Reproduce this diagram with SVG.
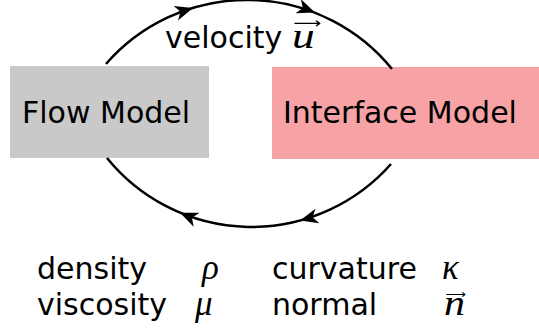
<svg xmlns="http://www.w3.org/2000/svg" width="539" height="336" viewBox="0 0 539 336">
<defs>
<style>
.lbl{font-family:"DejaVu Sans",sans-serif;font-size:30px;fill:#000}
.math{font-family:"Liberation Serif","DejaVu Serif",serif;font-style:italic;font-size:35px;fill:#000}
.vec{font-family:"DejaVu Sans",sans-serif;font-style:normal}
.arc{fill:none;stroke:#000;stroke-width:2.5}
.head{fill:#000}
</style>
<path id="ah" d="M0,0 L-18,-7.5 L-13,0 L-18,7.5 Z"/>
</defs>
<rect width="539" height="336" fill="#fff"/>
<g id="flow-model">
<rect x="10" y="66" width="199" height="92" fill="#c9c9c9"/>
<text class="lbl" x="22" y="123">Flow Model</text>
</g>
<g id="interface-model">
<rect x="272" y="67" width="267" height="92" fill="#f7a3a6"/>
<text class="lbl" x="283" y="123">Interface Model</text>
</g>
<g id="connectors">
<path class="arc" d="M106,64 A187,187 0 0 1 392,69"/>
<path class="arc" d="M391,164 A186,186 0 0 1 107,158"/>
<use href="#ah" class="head" transform="translate(193,8) rotate(-17)"/>
<use href="#ah" class="head" transform="translate(315,12.6) rotate(21)"/>
<use href="#ah" class="head" transform="translate(180,212.7) rotate(-157)"/>
<use href="#ah" class="head" transform="translate(300,220.6) rotate(165)"/>
</g>
<g id="labels">
<text class="lbl" x="165" y="48">velocity</text>
<text class="math" transform="translate(292,48) scale(1.3,1)">u<tspan class="vec" x="1" y="-20" font-size="15">⟶</tspan></text>
<text class="lbl" x="37" y="279">density</text>
<text class="math" x="202" y="279">ρ</text>
<text class="lbl" x="272" y="279">curvature</text>
<text class="math" x="442" y="279">κ</text>
<text class="lbl" x="37" y="315">viscosity</text>
<text class="math" x="195" y="315">μ</text>
<text class="lbl" x="272" y="315">normal</text>
<text class="math" transform="translate(444,315) scale(1.2,1)">n<tspan class="vec" x="1" y="-17" font-size="12">⟶</tspan></text>
</g>
</svg>
